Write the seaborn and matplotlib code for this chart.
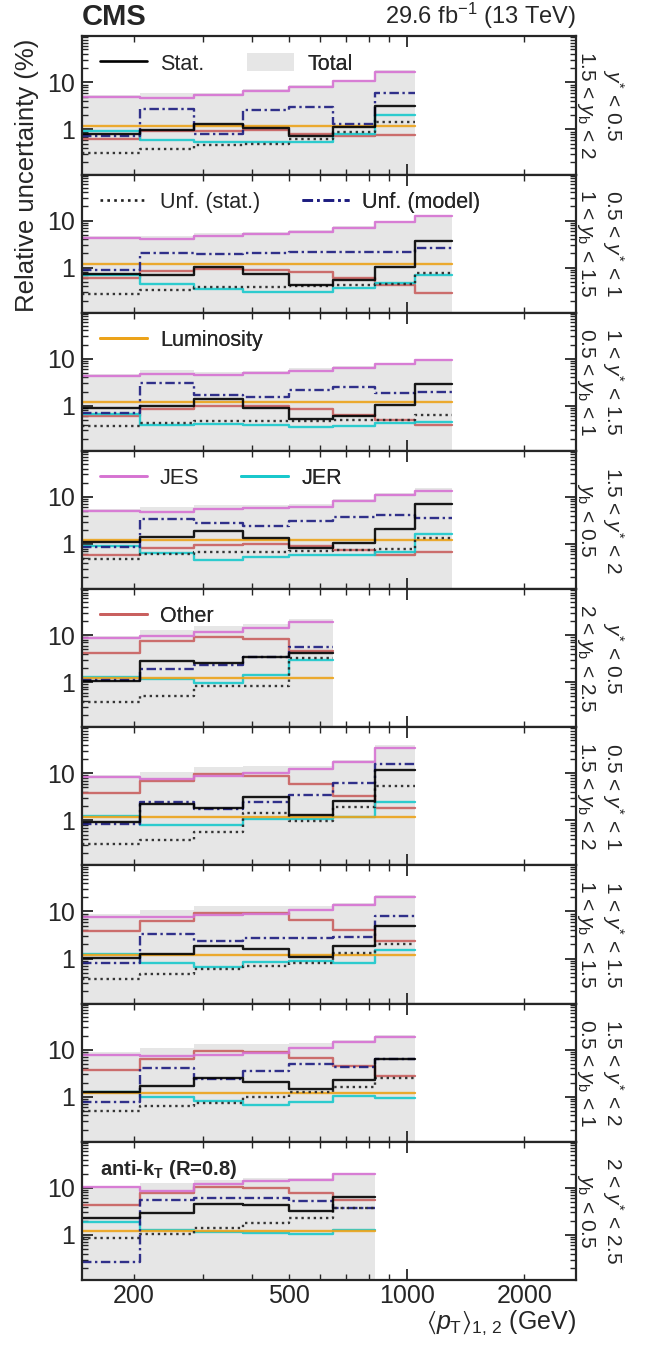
import numpy as np
import pandas as pd
import seaborn as sns
import matplotlib.pyplot as plt
from matplotlib.ticker import FixedLocator, FuncFormatter, NullFormatter, LogLocator
from matplotlib.lines import Line2D
from matplotlib.patches import Patch

# <pT>_1,2 bin edges (GeV)
pt_edges = [147, 207, 284, 380, 499, 646, 827, 1046, 1307]

# (y*, y_b) region of each panel, top to bottom
ystar_labels = ["$y^{*}$ < 0.5", "0.5 < $y^{*}$ < 1", "1 < $y^{*}$ < 1.5",
                "1.5 < $y^{*}$ < 2", "$y^{*}$ < 0.5", "0.5 < $y^{*}$ < 1",
                "1 < $y^{*}$ < 1.5", "1.5 < $y^{*}$ < 2", "2 < $y^{*}$ < 2.5"]
yb_labels = ["1.5 < $y_{\\mathrm{b}}$ < 2", "1 < $y_{\\mathrm{b}}$ < 1.5", "0.5 < $y_{\\mathrm{b}}$ < 1",
             "$y_{\\mathrm{b}}$ < 0.5", "2 < $y_{\\mathrm{b}}$ < 2.5", "1.5 < $y_{\\mathrm{b}}$ < 2",
             "1 < $y_{\\mathrm{b}}$ < 1.5", "0.5 < $y_{\\mathrm{b}}$ < 1", "$y_{\\mathrm{b}}$ < 0.5"]

# relative uncertainties in % (one list per panel)
total = [
    [5.3, 5.8, 5.8, 7.3, 8.8, 11.1, 17.9],
    [4.7, 4.8, 5.4, 5.8, 6.4, 7.6, 9.8, 13.1],
    [4.7, 5.9, 5.3, 5.5, 6.25, 7.1, 8.0, 10.0],
    [5.5, 6.2, 6.7, 6.6, 7.2, 9.1, 12.2, 15.5],
    [9.8, 12.9, 15.4, 17.4, 21.5],
    [9.3, 10.7, 13.4, 14.3, 14.2, 18.9, 39.6],
    [8.8, 10.6, 13.2, 13.3, 12.9, 14.9, 22.4],
    [8.9, 10.8, 12.9, 13.3, 13.8, 16.2, 20.9],
    [11.0, 13.0, 15.0, 16.0, 16.5, 20.5],
]
stat = [
    [0.80, 0.95, 1.33, 1.05, 0.73, 1.12, 3.2],
    [0.72, 0.71, 1.03, 0.74, 0.43, 0.55, 1.03, 3.6],
    [0.88, 0.97, 1.37, 0.90, 0.53, 0.62, 1.05, 2.95],
    [1.08, 1.42, 1.89, 1.37, 0.84, 1.03, 2.04, 7.0],
    [1.07, 2.83, 2.6, 3.4, 4.15],
    [0.91, 2.25, 1.82, 3.2, 1.32, 2.6, 11.8],
    [1.02, 1.27, 1.84, 1.57, 1.08, 1.84, 5.0],
    [1.25, 1.69, 2.47, 2.1, 1.46, 2.27, 6.4],
    [2.25, 2.87, 4.6, 4.3, 3.27, 6.45],
]
unf_stat = [
    [0.32, 0.385, 0.47, 0.50, 0.62, 0.88, 1.42],
    [0.28, 0.34, 0.39, 0.39, 0.40, 0.43, 0.44, 0.77],
    [0.37, 0.43, 0.48, 0.47, 0.47, 0.50, 0.50, 0.64],
    [0.47, 0.61, 0.67, 0.67, 0.70, 0.73, 0.79, 1.33],
    [0.37, 0.50, 0.81, 0.81, 3.26],
    [0.32, 0.39, 0.56, 1.43, 0.95, 1.88, 5.5],
    [0.37, 0.48, 0.60, 0.70, 0.80, 1.34, 2.0],
    [0.49, 0.63, 0.74, 0.97, 1.26, 1.64, 2.55],
    [0.85, 1.05, 1.38, 1.79, 2.25, 3.66],
]
unf_model = [
    [0.73, 2.76, 0.78, 2.6, 3.0, 1.33, 5.9],
    [0.88, 2.0, 1.93, 2.0, 2.17, 2.17, 2.17, 2.64],
    [0.69, 3.04, 1.66, 1.56, 2.2, 2.47, 1.89, 1.95],
    [0.85, 3.4, 2.8, 2.47, 3.04, 3.7, 4.05, 3.56],
    [1.1, 1.87, 2.3, 3.37, 5.7],
    [0.85, 2.4, 1.73, 2.4, 3.4, 6.35, 15.8],
    [0.80, 3.4, 2.35, 2.67, 2.76, 2.85, 8.1],
    [0.76, 4.0, 2.43, 3.6, 4.85, 4.25, 6.3],
    [0.26, 5.4, 6.2, 5.95, 5.2, 3.66],
]
lumi = 1.2
jes = [
    [4.9, 4.75, 5.3, 6.5, 8.1, 10.8, 16.4],
    [4.3, 4.0, 4.7, 5.2, 5.8, 7.1, 9.4, 12.2],
    [4.3, 4.7, 4.5, 4.9, 5.6, 6.5, 7.6, 9.2],
    [5.1, 4.7, 5.5, 5.7, 6.2, 8.1, 11.2, 13.1],
    [8.5, 9.7, 11.7, 14.4, 19.3],
    [8.2, 7.5, 8.8, 10.3, 12.2, 17.1, 33.8],
    [7.6, 7.5, 8.5, 8.9, 10.5, 13.8, 20.0],
    [7.8, 7.4, 7.8, 8.7, 10.7, 14.6, 18.4],
    [10.3, 8.5, 12.3, 13.8, 14.5, 19.4],
]
jer = [
    [0.91, 0.59, 0.55, 0.53, 0.53, 0.81, 2.0],
    [0.68, 0.44, 0.355, 0.31, 0.31, 0.37, 0.48, 0.68],
    [0.67, 0.39, 0.42, 0.40, 0.36, 0.37, 0.43, 0.45],
    [0.92, 0.65, 0.45, 0.52, 0.59, 0.57, 0.69, 1.61],
    [1.31, 1.15, 0.95, 1.42, 2.9],
    [1.25, 0.81, 0.81, 1.08, 1.08, 1.16, 2.5],
    [1.27, 0.82, 0.67, 0.85, 0.89, 0.82, 1.52],
    [1.28, 1.0, 0.81, 0.66, 0.77, 1.03, 0.95],
    [1.91, 1.27, 1.18, 1.12, 1.05, 1.27],
]
other = [
    [0.64, 0.91, 0.91, 0.95, 0.80, 0.73, 0.76],
    [0.59, 0.83, 0.95, 0.91, 0.81, 0.60, 0.42, 0.29],
    [0.60, 0.85, 0.97, 0.97, 0.87, 0.64, 0.50, 0.39],
    [0.59, 0.83, 0.97, 1.0, 0.90, 0.73, 0.59, 0.67],
    [4.2, 7.6, 9.2, 8.2, 4.6],
    [3.9, 6.7, 9.7, 8.9, 5.95, 3.3, 1.85],
    [3.8, 6.4, 9.5, 9.2, 6.6, 4.1, 2.35],
    [3.7, 6.4, 9.5, 9.0, 6.8, 4.5, 2.7],
    [4.3, 7.6, 10.5, 9.7, 7.6, 5.4],
]

sources = ["Other", "JER", "JES", "Luminosity", "Unf. (model)", "Unf. (stat.)", "Stat."]
colors = {"Stat.": "black", "Unf. (stat.)": "#222222", "Unf. (model)": "#1c1c80",
          "Luminosity": "#eca31a", "JES": "#d672d2", "JER": "#19c8cc", "Other": "#c9605f"}
dashes = {"Stat.": "", "Unf. (stat.)": (1, 1.6), "Unf. (model)": (4, 1.5, 1, 1.5),
          "Luminosity": "", "JES": "", "JER": "", "Other": ""}
total_color = "#e6e6e6"

sns.set_theme(style="ticks")
plt.rcParams["font.family"] = ["Liberation Sans", "DejaVu Sans"]
plt.rcParams["mathtext.fontset"] = "custom"
plt.rcParams["mathtext.rm"] = "Liberation Sans"
plt.rcParams["mathtext.it"] = "Liberation Sans:italic"
plt.rcParams["mathtext.bf"] = "Liberation Sans:bold"
plt.rcParams["mathtext.fallback"] = "stixsans"
plt.rcParams["axes.linewidth"] = 1.6

fig, axes = plt.subplots(9, 1, figsize=(6.45, 13.46), dpi=100, sharex=True)
fig.subplots_adjust(left=0.127, right=0.893, top=0.973, bottom=0.049, hspace=0)


def panel_frame(i):
    rows = []
    n = len(stat[i])
    x = pt_edges[:n + 1]
    series = {"Stat.": stat[i], "Unf. (stat.)": unf_stat[i], "Unf. (model)": unf_model[i],
              "Luminosity": [lumi] * n, "JES": jes[i], "JER": jer[i], "Other": other[i]}
    for name, vals in series.items():
        ys = list(vals) + [vals[-1]]
        for xv, yv in zip(x, ys):
            rows.append({"pt": xv, "unc": yv, "source": name})
    return pd.DataFrame(rows)


def add_entry(ax, handle, label, x):
    leg = ax.legend([handle], [label], loc="center left", bbox_to_anchor=(x, 0.80),
                    frameon=False, handlelength=2.2, handletextpad=0.6, borderpad=0,
                    borderaxespad=0, fontsize=15.5, handleheight=0.9)
    ax.add_artist(leg)


lw = 1.7
legend_entries = {
    0: [(Line2D([], [], color="black", lw=lw + 0.2), "Stat.", 0.036),
        (Patch(facecolor=total_color, edgecolor="none"), "Total", 0.334)],
    1: [(Line2D([], [], color=colors["Unf. (stat.)"], lw=lw + 0.2, ls=(0, (1, 1.6))), "Unf. (stat.)", 0.036),
        (Line2D([], [], color=colors["Unf. (model)"], lw=lw + 0.2, ls=(0, (4, 1.5, 1, 1.5))), "Unf. (model)", 0.445)],
    2: [(Line2D([], [], color=colors["Luminosity"], lw=lw + 0.4), "Luminosity", 0.036)],
    3: [(Line2D([], [], color=colors["JES"], lw=lw + 0.4), "JES", 0.036),
        (Line2D([], [], color=colors["JER"], lw=lw + 0.4), "JER", 0.322)],
    4: [(Line2D([], [], color=colors["Other"], lw=lw + 0.4), "Other", 0.036)],
}

for i, ax in enumerate(axes):
    n = len(stat[i])
    ax.stairs(total[i], pt_edges[:n + 1], fill=True, baseline=0.01, color=total_color, zorder=0)
    sns.lineplot(data=panel_frame(i), x="pt", y="unc", hue="source", style="source",
                 hue_order=sources, style_order=sources, palette=colors, dashes=dashes,
                 drawstyle="steps-post", estimator=None, sort=False, legend=False,
                 linewidth=lw, alpha=0.9, ax=ax)
    ax.set_xscale("log")
    ax.set_yscale("log")
    ax.set_xlim(147, 2710)
    ax.set_ylim(0.11, 95)
    ax.set_xlabel("")
    ax.set_ylabel("")

    ax.xaxis.set_major_locator(FixedLocator([1000]))
    ax.xaxis.set_minor_locator(FixedLocator([200, 300, 400, 500, 600, 700, 800, 900, 2000]))
    ax.xaxis.set_major_formatter(FuncFormatter(lambda v, p: f"{v:g}"))
    ax.xaxis.set_minor_formatter(FuncFormatter(lambda v, p: f"{v:g}" if v in (200, 500, 2000) else ""))
    ax.yaxis.set_major_locator(FixedLocator([1, 10]))
    ax.yaxis.set_minor_locator(LogLocator(base=10, subs=np.arange(2, 10)))
    ax.yaxis.set_major_formatter(FuncFormatter(lambda v, p: f"{v:g}"))
    ax.yaxis.set_minor_formatter(NullFormatter())

    ax.tick_params(which="both", direction="in", top=True, right=True, labelsize=18, pad=5)
    ax.tick_params(axis="x", which="both", pad=3)
    ax.tick_params(which="major", length=8, width=1.3)
    ax.tick_params(which="minor", length=4.5, width=1.0)
    if i < 8:
        ax.tick_params(which="both", labelbottom=False)

    ax.text(1.05, 0.5, ystar_labels[i] + "\n" + yb_labels[i], transform=ax.transAxes,
            rotation=270, ha="center", va="center", multialignment="center", fontsize=15)

    for handle, label, xpos in legend_entries.get(i, []):
        add_entry(ax, handle, label, xpos)

axes[8].text(0.036, 0.80, r"anti-k$_{\mathbf{T}}$ (R=0.8)", transform=axes[8].transAxes,
             ha="left", va="center", fontsize=14.5, fontweight="bold")

axes[0].text(0.0, 1.04, "CMS", transform=axes[0].transAxes, ha="left", va="bottom",
             fontsize=21, fontweight="bold")
axes[0].text(1.0, 1.04, r"29.6 fb$^{-1}$ (13 TeV)", transform=axes[0].transAxes,
             ha="right", va="bottom", fontsize=17)

fig.text(0.042, 0.971, "Relative uncertainty (%)", rotation=90, ha="center", va="top", fontsize=18.5)
axes[8].set_xlabel(r"$\langle p_{\mathrm{T}}\rangle_{1,\,2}$ (GeV)", fontsize=18, loc="right", labelpad=0)

fig.savefig("out.png", dpi=100)
